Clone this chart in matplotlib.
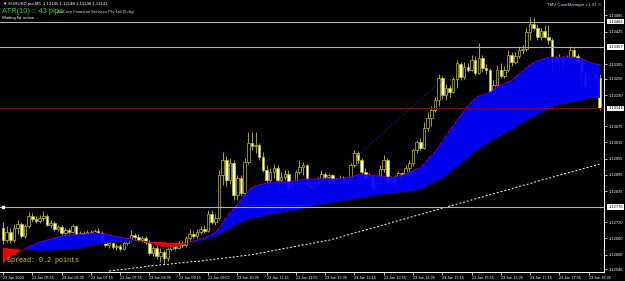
import numpy as np
import matplotlib
matplotlib.use('Agg')
import matplotlib.pyplot as plt
from matplotlib.transforms import blended_transform_factory

# EURUSD.pro M5, prices in points: 12698 -> 1.12698
opens = [12698, 12654, 12684, 12654, 12698, 12713, 12669, 12706, 12743, 12732,
         12724, 12735, 12743, 12710, 12717, 12695, 12702, 12680, 12691, 12684,
         12706, 12673, 12680, 12676, 12684, 12680, 12687, 12680, 12647, 12636,
         12643, 12628, 12632, 12621, 12643, 12654, 12673, 12665, 12654, 12661,
         12647, 12606, 12624, 12595, 12610, 12587, 12621, 12632, 12624, 12639,
         12636, 12661, 12676, 12669, 12684, 12695, 12687, 12750, 12721, 12735,
         12895, 12950, 12876, 12939, 12821, 12883, 12828, 12943, 13013, 13002,
         13006, 12961, 12913, 12876, 12906, 12920, 12876, 12887, 12898, 12846,
         12861, 12906, 12924, 12932, 12858, 12846, 12865, 12876, 12898, 12887,
         12895, 12865, 12876, 12883, 12869, 12876, 12932, 12976, 12950, 12906,
         12883, 12891, 12843, 12865, 12917, 12950, 12869, 12883, 12861, 12902,
         12895, 12920, 12939, 12987, 13017, 12994, 13068, 13105, 13135, 13172,
         13253, 13191, 13216, 13202, 13250, 13305, 13257, 13294, 13283, 13320,
         13272, 13327, 13290, 13283, 13198, 13228, 13283, 13261, 13283, 13339,
         13313, 13335, 13357, 13361, 13424, 13453, 13438, 13405, 13427, 13405,
         13394, 13320, 13313, 13327, 13305, 13327, 13357, 13335, 13313, 13276,
         13224, 13250, 13272, 13253]
highs = [12721, 12706, 12698, 12713, 12728, 12721, 12713, 12758, 12754, 12743,
         12747, 12761, 12750, 12728, 12724, 12710, 12710, 12698, 12698, 12713,
         12710, 12687, 12687, 12691, 12691, 12695, 12698, 12687, 12654, 12650,
         12647, 12639, 12639, 12650, 12661, 12691, 12680, 12676, 12669, 12669,
         12654, 12632, 12636, 12624, 12617, 12628, 12643, 12643, 12650, 12650,
         12669, 12695, 12687, 12695, 12706, 12710, 12765, 12765, 12750, 12913,
         12980, 12965, 12957, 12950, 12895, 12895, 12957, 13054, 13054, 13054,
         13013, 12980, 12932, 12920, 12935, 12932, 12906, 12913, 12913, 12872,
         12913, 12950, 12943, 12935, 12869, 12876, 12887, 12913, 12906, 12902,
         12898, 12883, 12895, 12891, 12887, 12939, 12987, 12983, 12957, 12920,
         12902, 12895, 12876, 12932, 12969, 12957, 12891, 12895, 12909, 12906,
         12932, 12950, 12994, 13024, 13031, 13091, 13128, 13150, 13183, 13268,
         13261, 13231, 13228, 13257, 13320, 13313, 13313, 13309, 13339, 13335,
         13383, 13339, 13305, 13290, 13246, 13302, 13309, 13298, 13357, 13350,
         13350, 13372, 13376, 13438, 13479, 13475, 13453, 13438, 13450, 13450,
         13401, 13335, 13342, 13335, 13339, 13372, 13368, 13342, 13320, 13283,
         13265, 13283, 13283, 13268]
lows = [12639, 12647, 12643, 12647, 12676, 12661, 12661, 12698, 12721, 12717,
        12717, 12724, 12706, 12698, 12687, 12687, 12673, 12676, 12676, 12680,
        12665, 12669, 12669, 12673, 12673, 12676, 12669, 12639, 12628, 12624,
        12621, 12617, 12613, 12617, 12636, 12650, 12658, 12650, 12647, 12639,
        12599, 12595, 12584, 12573, 12565, 12576, 12613, 12617, 12621, 12628,
        12628, 12654, 12661, 12661, 12676, 12680, 12684, 12713, 12710, 12728,
        12858, 12854, 12861, 12802, 12802, 12817, 12821, 12935, 12987, 12976,
        12950, 12906, 12865, 12869, 12883, 12813, 12869, 12876, 12839, 12839,
        12854, 12898, 12895, 12850, 12839, 12839, 12858, 12869, 12880, 12880,
        12858, 12858, 12865, 12861, 12858, 12865, 12924, 12939, 12898, 12876,
        12865, 12835, 12839, 12861, 12906, 12861, 12861, 12850, 12854, 12883,
        12887, 12909, 12928, 12976, 12987, 12991, 13057, 13076, 13128, 13150,
        13176, 13172, 13183, 13198, 13216, 13246, 13250, 13276, 13279, 13265,
        13268, 13276, 13268, 13187, 13187, 13224, 13253, 13253, 13276, 13298,
        13305, 13327, 13342, 13353, 13394, 13431, 13394, 13394, 13401, 13379,
        13272, 13305, 13298, 13283, 13302, 13324, 13327, 13305, 13228, 13209,
        13209, 13239, 13246, 13135]
closes = [12654, 12684, 12654, 12698, 12713, 12669, 12706, 12743, 12732, 12724,
          12735, 12743, 12710, 12717, 12695, 12702, 12680, 12691, 12684, 12706,
          12673, 12680, 12676, 12684, 12680, 12687, 12680, 12647, 12636, 12643,
          12628, 12632, 12621, 12643, 12654, 12673, 12665, 12654, 12661, 12647,
          12606, 12624, 12595, 12610, 12587, 12621, 12632, 12624, 12639, 12636,
          12661, 12676, 12669, 12684, 12695, 12687, 12750, 12721, 12735, 12895,
          12950, 12876, 12939, 12821, 12883, 12828, 12943, 13013, 13002, 13006,
          12961, 12913, 12876, 12906, 12920, 12876, 12887, 12898, 12846, 12861,
          12906, 12924, 12932, 12858, 12846, 12865, 12876, 12898, 12887, 12895,
          12865, 12876, 12883, 12869, 12876, 12932, 12976, 12950, 12906, 12883,
          12891, 12843, 12865, 12917, 12950, 12869, 12883, 12861, 12902, 12895,
          12920, 12939, 12987, 13017, 12994, 13068, 13105, 13135, 13172, 13253,
          13191, 13216, 13202, 13250, 13309, 13257, 13294, 13283, 13320, 13272,
          13327, 13290, 13283, 13198, 13228, 13283, 13261, 13283, 13339, 13313,
          13335, 13357, 13361, 13424, 13453, 13438, 13405, 13427, 13405, 13394,
          13320, 13313, 13327, 13305, 13327, 13357, 13335, 13313, 13276, 13224,
          13250, 13272, 13253, 13141]

# moving averages of the ribbon (fast = top edge, slow = bottom edge)
fast_ma = [12569, 12580, 12591, 12599, 12606, 12613, 12621, 12628, 12636, 12641,
           12647, 12650, 12654, 12658, 12661, 12665, 12669, 12671, 12673, 12673,
           12674, 12676, 12676, 12678, 12680, 12680, 12680, 12678, 12676, 12673,
           12669, 12667, 12665, 12661, 12660, 12658, 12654, 12652, 12650, 12647,
           12643, 12639, 12636, 12632, 12628, 12628, 12628, 12630, 12632, 12636,
           12641, 12647, 12650, 12654, 12658, 12661, 12669, 12674, 12680, 12695,
           12717, 12735, 12754, 12769, 12784, 12802, 12817, 12835, 12846, 12854,
           12858, 12861, 12865, 12865, 12867, 12869, 12869, 12869, 12870, 12872,
           12874, 12876, 12878, 12880, 12880, 12880, 12880, 12880, 12880, 12880,
           12880, 12880, 12882, 12883, 12885, 12887, 12891, 12896, 12898, 12896,
           12895, 12893, 12891, 12891, 12889, 12887, 12887, 12887, 12891, 12895,
           12898, 12904, 12909, 12917, 12920, 12935, 12950, 12965, 12980, 12998,
           13017, 13039, 13057, 13076, 13094, 13113, 13131, 13150, 13165, 13176,
           13187, 13192, 13196, 13202, 13209, 13220, 13228, 13233, 13239, 13244,
           13257, 13268, 13279, 13290, 13302, 13309, 13316, 13320, 13326, 13329,
           13331, 13331, 13331, 13331, 13331, 13331, 13329, 13327, 13326, 13320,
           13314, 13309, 13305, 13302]
slow_ma = [12624, 12624, 12621, 12621, 12621, 12617, 12617, 12617, 12617, 12613,
           12613, 12613, 12613, 12613, 12613, 12617, 12617, 12617, 12617, 12621,
           12621, 12621, 12624, 12628, 12632, 12636, 12637, 12639, 12641, 12643,
           12645, 12647, 12647, 12647, 12648, 12650, 12650, 12650, 12650, 12650,
           12647, 12647, 12647, 12645, 12645, 12643, 12643, 12643, 12643, 12643,
           12643, 12643, 12645, 12647, 12650, 12654, 12658, 12661, 12665, 12673,
           12680, 12687, 12695, 12702, 12710, 12717, 12724, 12728, 12732, 12735,
           12737, 12739, 12743, 12747, 12750, 12752, 12754, 12756, 12758, 12761,
           12763, 12765, 12769, 12772, 12776, 12780, 12782, 12784, 12787, 12789,
           12791, 12795, 12796, 12798, 12800, 12802, 12804, 12806, 12809, 12811,
           12813, 12815, 12817, 12819, 12821, 12824, 12824, 12826, 12828, 12830,
           12832, 12833, 12835, 12837, 12839, 12846, 12854, 12861, 12867, 12872,
           12880, 12891, 12902, 12913, 12924, 12933, 12946, 12957, 12969, 12980,
           12987, 12998, 13007, 13017, 13024, 13031, 13037, 13046, 13054, 13061,
           13068, 13078, 13087, 13094, 13102, 13109, 13117, 13124, 13131, 13139,
           13144, 13150, 13154, 13157, 13159, 13161, 13165, 13166, 13168, 13172,
           13176, 13178, 13179, 13181]
# long moving average (white dotted), visible from bar 29 on
long_start = 29
long_ma = [12539, 12541, 12543, 12544, 12546, 12547, 12549, 12550, 12552, 12554, 12556,
           12558, 12559, 12560, 12562, 12563, 12564, 12566, 12567, 12569, 12570,
           12571, 12573, 12574, 12575, 12576, 12578, 12580, 12581, 12583, 12585,
           12586, 12588, 12590, 12591, 12593, 12595, 12596, 12598, 12600, 12602,
           12605, 12607, 12610, 12613, 12615, 12618, 12620, 12623, 12625, 12628,
           12630, 12633, 12636, 12638, 12640, 12643, 12646, 12648, 12651, 12653,
           12657, 12660, 12664, 12668, 12672, 12676, 12680, 12683, 12687, 12691,
           12695, 12699, 12702, 12706, 12710, 12714, 12718, 12722, 12726, 12730,
           12733, 12737, 12741, 12745, 12748, 12752, 12756, 12760, 12764, 12768,
           12772, 12775, 12779, 12783, 12787, 12791, 12794, 12798, 12802, 12806,
           12810, 12813, 12818, 12821, 12825, 12829, 12833, 12836, 12840, 12844,
           12848, 12852, 12856, 12859, 12863, 12867, 12871, 12875, 12879, 12882,
           12886, 12890, 12894, 12897, 12901, 12905, 12908, 12912, 12916, 12920,
           12923, 12927, 12931, 12935]

# chart objects
trend_bars = [97, 120]
trend_prices = [1.12968, 1.13245]
gray_levels = [1.13462, 1.13367, 1.12776]
bid_price = 1.13141

y_ticks = [1.13485, 1.13425, 1.13305, 1.13250, 1.13190, 1.13075, 1.13015, 1.12955,
           1.12895, 1.12835, 1.12720, 1.12660, 1.12600, 1.12546]
time_labels = ['23 Jun 2020', '23 Jun 05:55', '23 Jun 06:35', '23 Jun 07:15', '23 Jun 07:55',
               '23 Jun 08:35', '23 Jun 09:15', '23 Jun 09:55', '23 Jun 10:35', '23 Jun 11:15',
               '23 Jun 11:55', '23 Jun 12:35', '23 Jun 13:15', '23 Jun 13:55', '23 Jun 14:35',
               '23 Jun 15:15', '23 Jun 15:55', '23 Jun 16:35', '23 Jun 17:15', '23 Jun 17:55',
               '23 Jun 18:35']

CANDLE = '#c4c400'
FONT = ['Liberation Sans', 'DejaVu Sans']

o = 1 + np.array(opens) / 1e5
h = 1 + np.array(highs) / 1e5
l = 1 + np.array(lows) / 1e5
c = 1 + np.array(closes) / 1e5
fast = 1 + np.array(fast_ma) / 1e5
slow = 1 + np.array(slow_ma) / 1e5
x = np.arange(len(o))
xl = np.arange(long_start, long_start + len(long_ma))
lm = 1 + np.array(long_ma) / 1e5

fig = plt.figure(figsize=(6.25, 2.81), dpi=100, facecolor='black')
ax = fig.add_axes([0, 9 / 281, 604 / 625, 272 / 281])
ax.set_facecolor('black')

# candles
up = c >= o
ax.vlines(x, l, h, color=CANDLE, lw=0.6, zorder=2)
ax.bar(x, np.maximum(np.abs(c - o), 0.00002), bottom=np.minimum(o, c), width=0.7,
       color=np.where(up, 'black', '#ffffdc'), edgecolor=CANDLE, linewidth=0.5, zorder=3)

# ribbon
ax.fill_between(x, fast, slow, where=fast >= slow, step='mid', color='#0000ff',
                alpha=0.93, lw=0, zorder=4)
ax.fill_between(x, fast, slow, where=fast <= slow, step='mid', color='#ff0000',
                alpha=0.95, lw=0, zorder=4)
ax.plot(x, fast, color='#c8003c', lw=0.5, zorder=5)

ax.plot(xl, lm, color='white', lw=0.7, linestyle=(0, (2, 2)), zorder=5)
ax.plot(trend_bars, trend_prices, color='#2020b0', lw=0.7, linestyle=(0, (1.5, 2)), zorder=5)

for p in gray_levels:
    ax.axhline(p, color='#b0b0b0', lw=0.8, zorder=6)
ax.axhline(bid_price, color='#9a0000', lw=0.8, zorder=6)
ax.plot([0], [gray_levels[2]], marker='s', ms=1.6, color='white', zorder=7)

ax.set_xlim(-0.82, 164.2)
ax.set_ylim(1.125356, 1.13542)

# axes
for s in ['left', 'top']:
    ax.spines[s].set_visible(False)
for s in ['right', 'bottom']:
    ax.spines[s].set_color('white')
    ax.spines[s].set_linewidth(0.7)
ax.yaxis.tick_right()
ax.set_yticks(y_ticks)
ax.set_yticklabels([f'{v:.5f}' for v in y_ticks], fontsize=2.9, color='white', family=FONT)
ax.set_xticks(range(0, 8 * len(time_labels), 8))
ax.set_xticklabels(time_labels, fontsize=2.7, color='white', family=FONT, ha='left')
ax.tick_params(axis='y', length=2.2, width=0.5, colors='white', pad=1.5)
ax.tick_params(axis='x', length=2.2, width=0.5, colors='white', pad=0.6)

trans = blended_transform_factory(ax.transAxes, ax.transData)
for p in gray_levels + [bid_price]:
    ax.text(1.007, p, f'{p:.5f}', transform=trans, fontsize=2.9, color='black', family=FONT,
            ha='left', va='center', clip_on=False, zorder=8,
            bbox=dict(boxstyle='square,pad=0.2', fc='white', ec='none'))


def px(xp, yp):
    return xp / 625, 1 - yp / 281


fig.text(*px(3, 4), '▼ EURUSD.pro,M5  1.13145 1.13148 1.13140 1.13141', fontsize=3.1,
         color='white', family=FONT, va='center')
fig.text(*px(57, 11.5), 'AxiCorp Financial Services Pty Ltd (5 digi', fontsize=3.1,
         color='#d8d8d8', family=FONT, va='center')
fig.text(*px(2, 11.5), 'ATR(10) :: 43 pips', fontsize=5.4, color='#2bd62b', family=FONT, va='center')
fig.text(*px(2, 18), 'Waiting for action ....', fontsize=3.1, color='white', family=FONT, va='center')
fig.text(*px(547, 5), 'TMV CaveManager v1.41 ©', fontsize=3.2, color='#c8dcff', family=FONT, va='center')
fig.text(*px(7, 260), 'Spread: 0.2 points', fontsize=4.9, color='#d2d200',
         family=['Liberation Mono', 'DejaVu Sans Mono'], va='center')

fig.savefig('out.png', dpi=100, facecolor='black')
